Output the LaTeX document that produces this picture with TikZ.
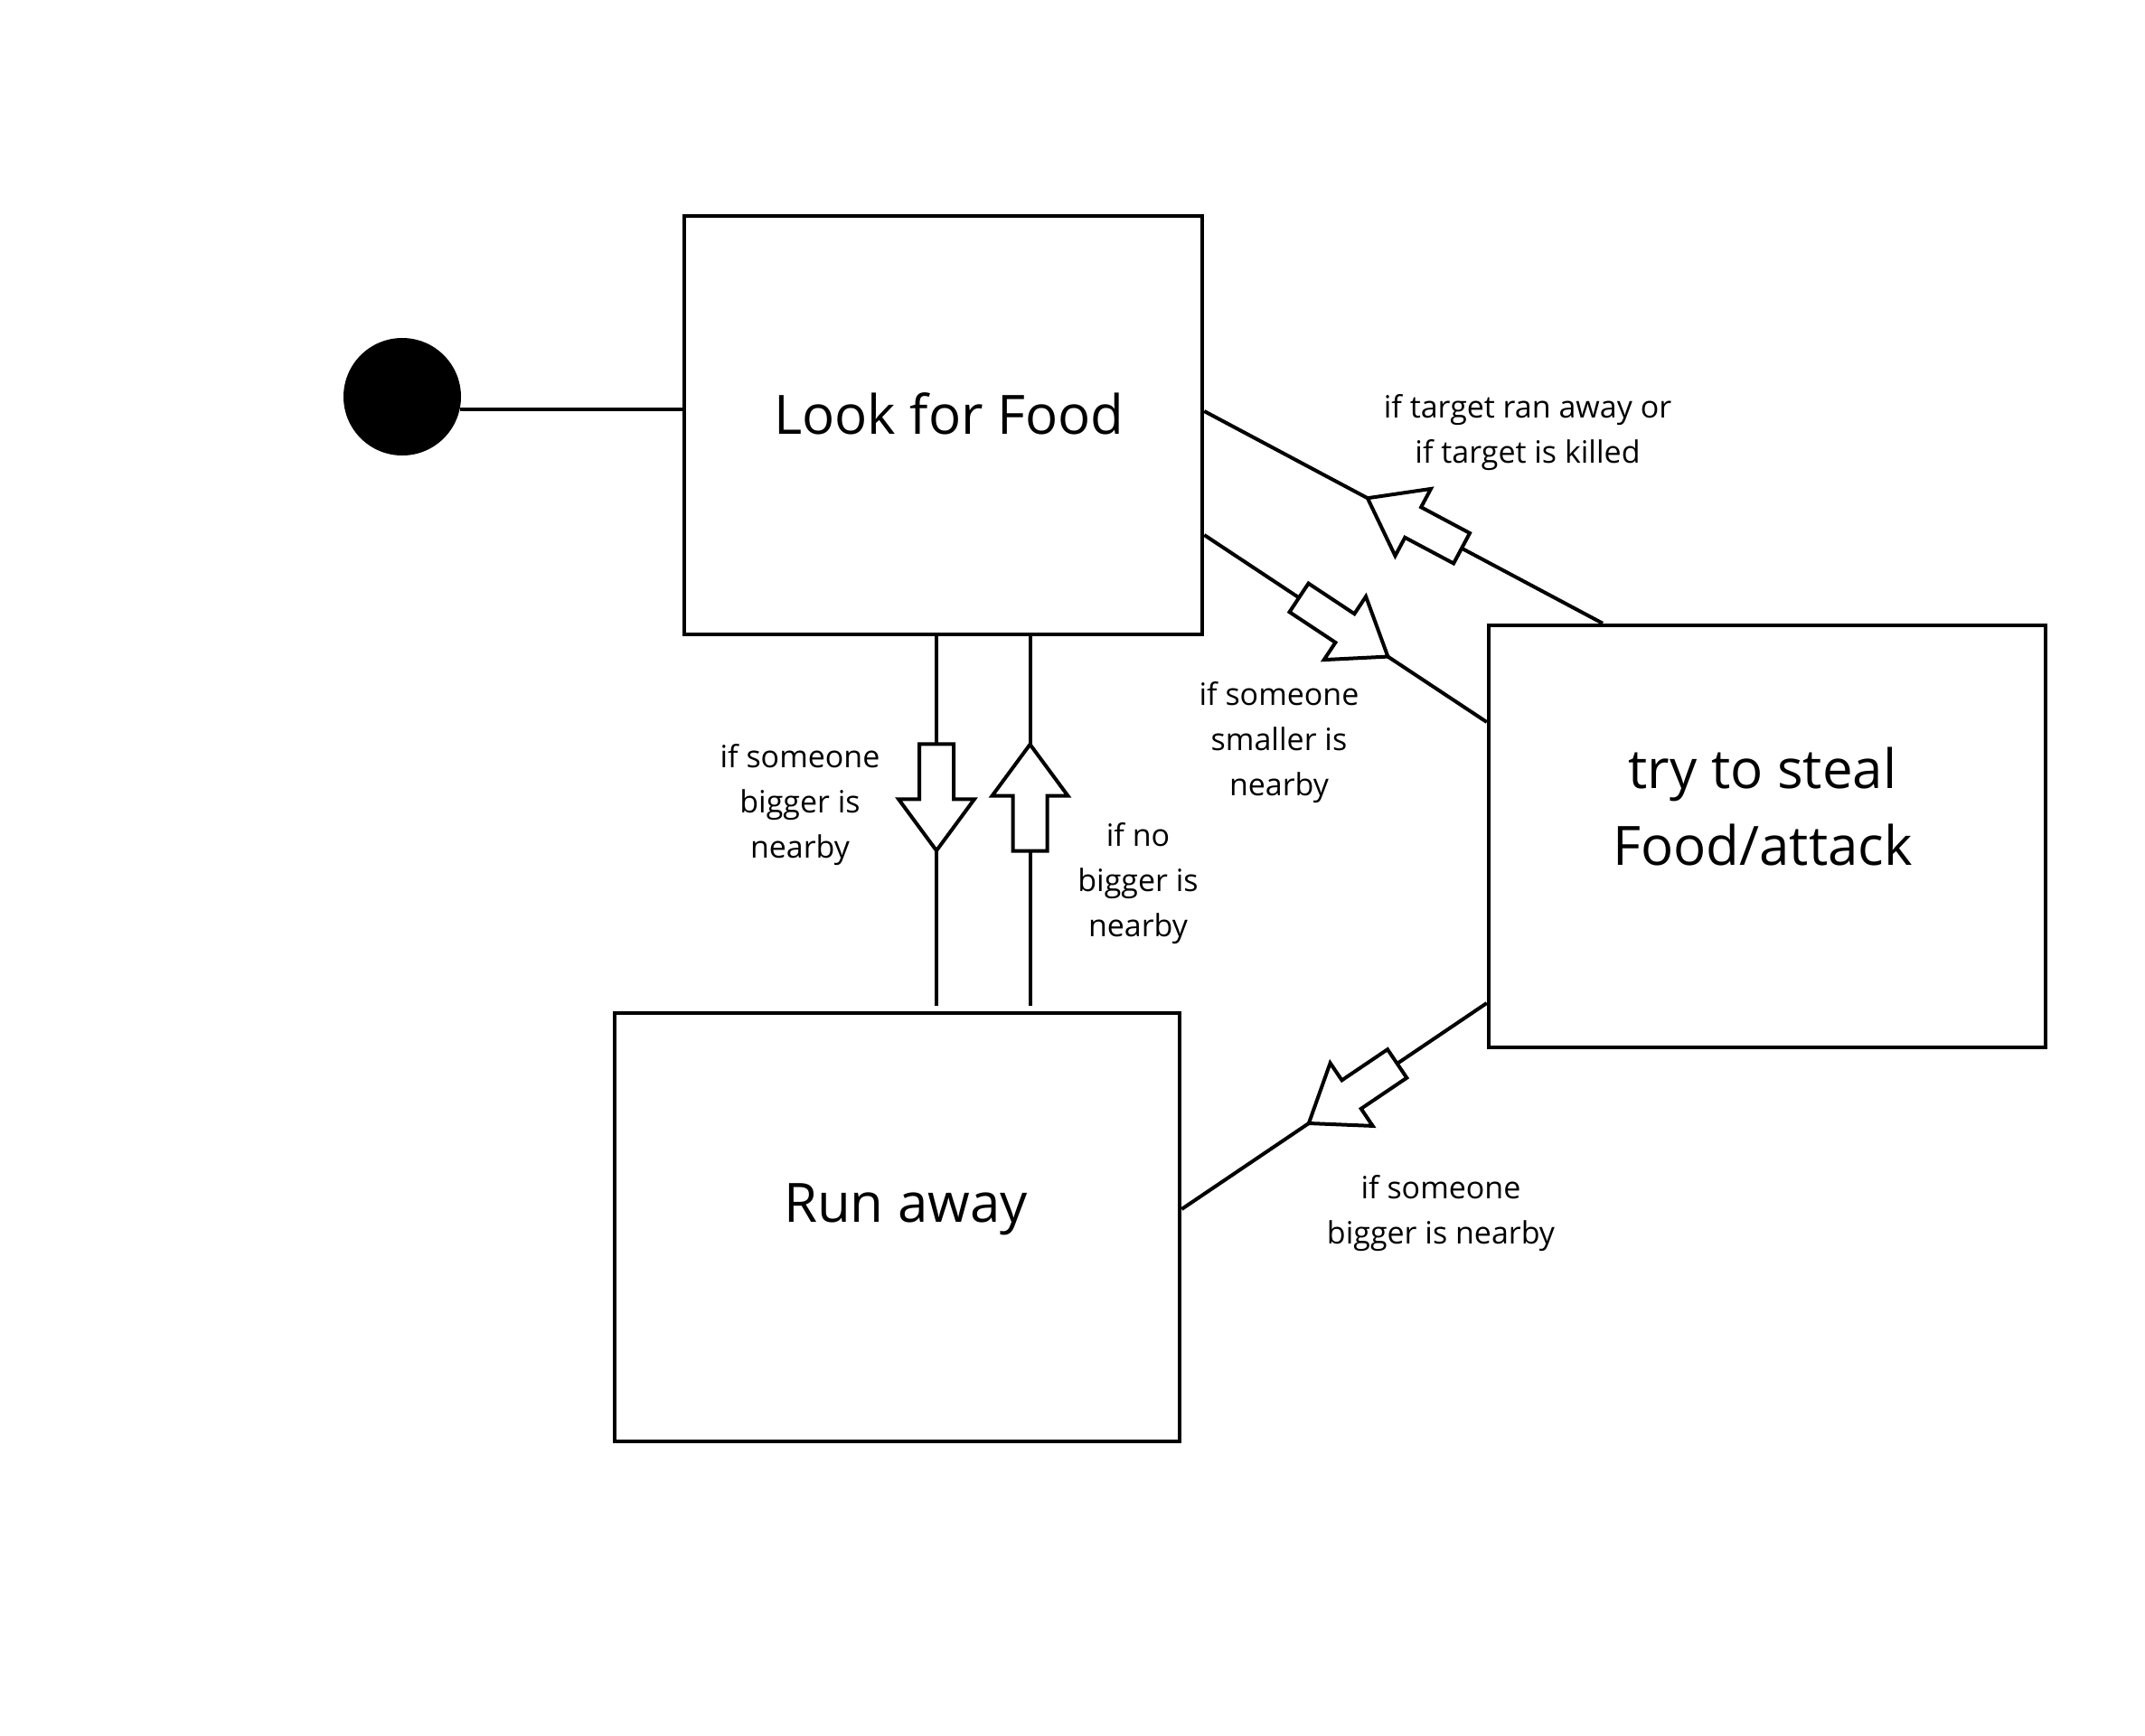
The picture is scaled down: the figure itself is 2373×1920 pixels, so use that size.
\documentclass[tikz,border=0pt]{standalone}
\usepackage{fontspec}
\setmainfont{Open Sans}
\usetikzlibrary{calc}
\tikzset{
  box/.style={draw, line width=4.5pt, inner sep=0pt},
  conn/.style={line width=4pt},
  bigtxt/.style={font=\fontsize{60}{85}\selectfont, align=center, inner sep=0pt},
  smalltxt/.style={font=\fontsize{34}{50}\selectfont, align=center, inner sep=0pt},
  pics/barrow/.style={code={\draw[line width=4pt, fill=white, line join=miter] (60,0) -- (3,42) -- (3,19) -- (-58,19) -- (-58,-19) -- (3,-19) -- (3,-42) -- cycle;}},
  onpath/.style={pos=#1, sloped, allow upside down}
}
\begin{document}
\begin{tikzpicture}[x=1pt,y=-1pt]
\useasboundingbox[fill=white] (0,0) rectangle (2373,1920);
% states
\node[box, minimum width=573pt, minimum height=463pt] (look) at (1043.5,470.5) {};
\node[box, minimum width=616pt, minimum height=467pt] (steal) at (1955,925.5) {};
\node[box, minimum width=625pt, minimum height=474pt] (run) at (992.5,1358) {};
\node[circle, fill=black, minimum size=130pt, inner sep=0pt] (init) at (445,439) {};
% state texts
\node[bigtxt] (lookT) at (1050,458) {Look for Food};
\node[bigtxt] (stealT) at (1950,892) {try to steal\\Food/attack};
\node[bigtxt] (runT) at (1002,1338) {Run away};
% connectors
\draw[conn] (init.-12) -- (init.-12 -| look.west);
\draw[conn, shorten >=6pt] ([xshift=-7.5pt]look.south) -- ([xshift=-7.5pt]look.south |- run.north);
\draw[conn, shorten <=6pt] ([xshift=96pt]look.south |- run.north) -- ([xshift=96pt]look.south);
\draw[conn] ([xshift=-182pt]steal.north) -- ([yshift=15.5pt]look.east);
\draw[conn] ([yshift=-121.5pt]look.east) -- ([yshift=126.5pt]steal.west);
\draw[conn] ([yshift=-184.5pt]steal.west) -- ([yshift=20pt]run.east);
% block arrows on the connectors
\path ([xshift=-7.5pt]look.south) -- ([xshift=-7.5pt]look.south |- run.north) pic[onpath=0.427]{barrow};
\path ([xshift=96pt]look.south |- run.north) -- ([xshift=96pt]look.south) pic[onpath=0.567]{barrow};
\path ([xshift=-182pt]steal.north) -- ([yshift=15.5pt]look.east) pic[onpath=0.47]{barrow};
\path ([yshift=-121.5pt]look.east) -- ([yshift=126.5pt]steal.west) pic[onpath=0.49]{barrow};
\path ([yshift=-184.5pt]steal.west) -- ([yshift=20pt]run.east) pic[onpath=0.436]{barrow};
% transition labels
\node[smalltxt] (labA) at (1690,479) {if target ran away or\\if target is killed};
\node[smalltxt] (labB) at (1415,822) {if someone\\smaller is\\nearby};
\node[smalltxt] (labC) at (885,891) {if someone\\bigger is\\nearby};
\node[smalltxt] (labD) at (1259,978) {if no\\bigger is\\nearby};
\node[smalltxt] (labE) at (1594,1343) {if someone\\bigger is nearby};
\end{tikzpicture}
\end{document}
